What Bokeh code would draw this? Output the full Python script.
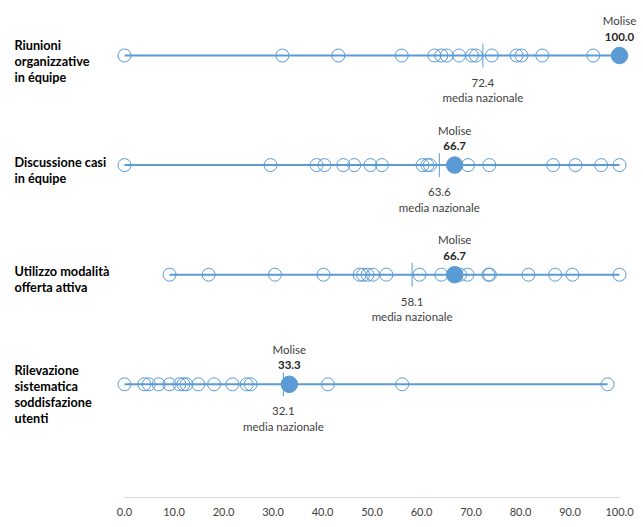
from bokeh.plotting import figure
from bokeh.models import Range1d, FixedTicker, NumeralTickFormatter
from bokeh.core.properties import value
from bokeh.embed import file_html
from bokeh.resources import INLINE

# ---------------- data ----------------
categories = [
    "Riunioni\norganizzative\nin équipe",
    "Discussione casi\nin équipe",
    "Utilizzo modalità\nofferta attiva",
    "Rilevazione\nsistematica\nsoddisfazione\nutenti",
]
others_riunioni = [0.0, 31.9, 43.2, 56.0, 62.6, 64.0, 65.1, 67.6, 70.2, 71.0,
                   74.2, 79.2, 80.2, 84.4, 94.7, 100.0]
others_discussione = [0.0, 29.5, 38.8, 40.4, 44.2, 46.4, 49.7, 52.0, 60.2, 61.2,
                      61.7, 69.4, 73.7, 86.6, 91.1, 96.3, 100.0]
others_offerta = [9.1, 17.0, 30.4, 40.2, 47.5, 48.2, 49.1, 50.2, 52.9, 59.6,
                  64.0, 67.8, 69.3, 73.5, 73.8, 81.6, 87.0, 90.5, 100.0]
others_rilevazione = [0.0, 4.0, 4.9, 6.9, 9.1, 11.1, 11.9, 12.5, 14.9, 18.1,
                      21.8, 24.7, 25.5, 41.1, 56.1, 97.6]
region_name = "Molise"
region_values = [100.0, 66.7, 66.7, 33.3]
national_mean = [72.4, 63.6, 58.1, 32.1]
mean_label = "media nazionale"
tick_values = [0, 10, 20, 30, 40, 50, 60, 70, 80, 90, 100]

others = [others_riunioni, others_discussione, others_offerta, others_rilevazione]

# ---------------- layout / style ----------------
BLUE = "#5B9BD5"
TXT = "#404040"
FONT = "Lato"
FW, FH = 643, 497
PX = 4.95           # pixels per unit on x
RS = 109.6          # pixels per row
x_start = -124 / PX
x_end = x_start + FW / PX
y_top = -55 / RS
y_bottom = FH / RS + y_top

p = figure(frame_width=FW, frame_height=FH, output_backend="svg",
           toolbar_location=None, x_range=Range1d(x_start, x_end),
           y_range=Range1d(y_bottom, y_top), min_border=0)
p.outline_line_color = None
p.grid.visible = False
p.yaxis.visible = False
xa = p.xaxis[0]
xa.bounds = (0, 100)
xa.ticker = FixedTicker(ticks=tick_values)
xa.formatter = NumeralTickFormatter(format="0.0")
xa.axis_line_color = "#d9d9d9"
xa.axis_line_width = 1
xa.major_tick_line_color = None
xa.minor_tick_line_color = None
xa.major_label_text_font = FONT
xa.major_label_text_font_size = "11px"
xa.major_label_text_color = TXT
xa.major_label_standoff = 4

rows = list(range(len(categories)))

# row lines
line_x0 = [min(o + [r]) for o, r in zip(others, region_values)]
line_x1 = [max(o + [r]) for o, r in zip(others, region_values)]
p.segment(x0=line_x0, x1=line_x1, y0=rows, y1=rows, line_color=BLUE, line_width=2)

# other regions: open circles
px_, py_ = [], []
for i, o in enumerate(others):
    px_ += o
    py_ += [i] * len(o)
p.scatter(px_, py_, size=13, fill_alpha=0, line_color=BLUE, line_width=1)

# national mean marker
mh = 12 / RS
p.segment(x0=national_mean, x1=national_mean,
          y0=[r - mh for r in rows], y1=[r + mh for r in rows],
          line_color=BLUE, line_width=1)

# region (Molise) filled circle
p.scatter(region_values, rows, size=16.5, fill_color=BLUE, line_color=BLUE)

# labels
SMALL = "11.5px"
p.text(x=national_mean, y=[r + 27 / RS for r in rows],
       text=[f"{m:.1f}" for m in national_mean], text_align="center",
       text_baseline="middle", text_font=value(FONT), text_font_size=SMALL,
       text_color=TXT)
p.text(x=national_mean, y=[r + 42 / RS for r in rows],
       text=[mean_label] * len(rows), text_align="center",
       text_baseline="middle", text_font=value(FONT), text_font_size=SMALL,
       text_color=TXT)
p.text(x=region_values, y=[r - 35 / RS for r in rows],
       text=[region_name] * len(rows), text_align="center",
       text_baseline="middle", text_font=value(FONT), text_font_size=SMALL,
       text_color=TXT)
p.text(x=region_values, y=[r - 19 / RS for r in rows],
       text=[f"{v:.1f}" for v in region_values], text_align="center",
       text_baseline="middle", text_font=value(FONT), text_font_size=SMALL,
       text_font_style="bold", text_color="#262626")

# category labels
label_dy = [5, 5, 4, 10]
p.text(x=[x_start + 14 / PX] * len(rows),
       y=[r + d / RS for r, d in zip(rows, label_dy)],
       text=categories, text_align="left", text_baseline="middle",
       text_font=value(FONT), text_font_size="12.7px", text_font_style="bold",
       text_color="#000000", text_line_height=1.0)

open("out.html", "w").write(file_html(p, INLINE))
